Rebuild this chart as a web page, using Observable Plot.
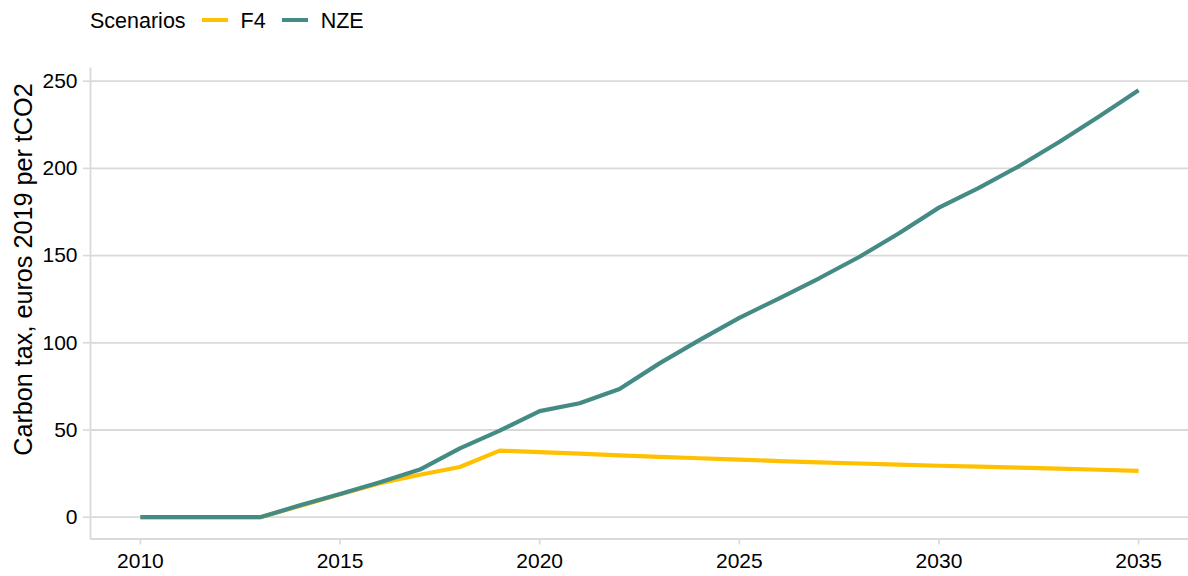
<!DOCTYPE html>
<html>
<head>
<meta charset="utf-8">
<script src="https://cdn.jsdelivr.net/npm/d3@7"></script>
<script src="https://cdn.jsdelivr.net/npm/@observablehq/plot@0.6"></script>
<style>
  html, body { margin: 0; padding: 0; background: #fff; }
  body { width: 1188px; height: 576px; overflow: hidden; font-family: "Liberation Sans", Arial, sans-serif; }
  #legend { height: 40px; display: flex; align-items: center; padding-left: 90px; font-size: 21.5px; color: #000; box-sizing: border-box; }
  #legend .t { position: relative; top: 1px; }
  #legend .sw { height: 4px; }
  #chart svg { display: block; }
</style>
</head>
<body>
<div id="legend"></div>
<div id="chart"></div>
<script>
// ---- Data ----
const years = [2010, 2011, 2012, 2013, 2014, 2015, 2016, 2017, 2018, 2019, 2020, 2021, 2022,
               2023, 2024, 2025, 2026, 2027, 2028, 2029, 2030, 2031, 2032, 2033, 2034, 2035];
const f4Values  = [0, 0, 0, 0, 6.5, 13.2, 19.5, 24.3, 28.8, 38.2, 37.3, 36.4, 35.5,
                   34.6, 33.8, 33.0, 32.2, 31.4, 30.8, 30.1, 29.5, 29.0, 28.4, 27.8, 27.2, 26.6];
const nzeValues = [0, 0, 0, 0, 6.8, 13.3, 20.1, 27.3, 39.5, 49.6, 60.8, 65.3, 73.5,
                   88.2, 101.5, 114.3, 125.5, 137.0, 149.2, 162.8, 177.5, 188.8, 201.2, 215.0, 229.6, 244.8];
const scenarios = ["F4", "NZE"];
const scenarioColors = ["#FFC000", "#458B85"];
const yTicks = [0, 50, 100, 150, 200, 250];
const xTicks = [2010, 2015, 2020, 2025, 2030, 2035];
const yTitle = "Carbon tax, euros 2019 per tCO2";
const legendTitle = "Scenarios";

// ---- Build table ----
const series = {F4: f4Values, NZE: nzeValues};
const data = scenarios.flatMap(s => years.map((yr, i) => ({year: yr, value: series[s][i], scenario: s})));

// ---- Legend (HTML, above the SVG) ----
const legend = document.getElementById("legend");
const title = document.createElement("span");
title.className = "t";
title.textContent = legendTitle;
title.style.marginRight = "16px";
legend.appendChild(title);
scenarios.forEach((s, i) => {
  const sw = document.createElement("span");
  sw.className = "sw";
  sw.style.width = "26px";
  sw.style.background = scenarioColors[i];
  sw.style.marginRight = "13px";
  legend.appendChild(sw);
  const lab = document.createElement("span");
  lab.className = "t";
  lab.textContent = s;
  lab.style.marginRight = "16px";
  legend.appendChild(lab);
});

// ---- Chart ----
const xDomain = [2008.75, 2036.25];
const yDomain = [-12.5, 257.5];
const gridColor = "#d9d9d9";

const chart = Plot.plot({
  width: 1188,
  height: 536,
  marginLeft: 90,
  marginRight: 0,
  marginTop: 27.6,
  marginBottom: 37.5,
  style: {fontFamily: "'Liberation Sans', Arial, sans-serif", fontSize: "21px", color: "#000", background: "#fff"},
  x: {domain: xDomain},
  y: {domain: yDomain},
  color: {domain: scenarios, range: scenarioColors},
  marks: [
    Plot.gridY(yTicks, {stroke: gridColor, strokeOpacity: 1, strokeWidth: 1.8}),
    Plot.ruleX([xDomain[0]], {stroke: gridColor, strokeWidth: 1.8}),
    Plot.ruleY([yDomain[0]], {stroke: gridColor, strokeWidth: 1.8}),
    Plot.axisY(yTicks, {tickSize: 7, tickPadding: 6, stroke: gridColor, strokeWidth: 1.6, fill: "#000", label: null, fontSize: 21}),
    Plot.axisX(xTicks, {tickSize: 6, tickPadding: 8, stroke: gridColor, strokeWidth: 1.6, fill: "#000", label: null, fontSize: 21, tickFormat: d => String(d)}),
    Plot.line(data, {x: "year", y: "value", stroke: "scenario", strokeWidth: 4.2, strokeLinejoin: "round", strokeLinecap: "butt"}),
    Plot.text([yTitle], {text: d => d, frameAnchor: "left", textAnchor: "middle", lineAnchor: "middle", rotate: -90, dx: -67, dy: -34, fontSize: 25.2, fill: "#000"})
  ]
});
document.getElementById("chart").appendChild(chart);
</script>
</body>
</html>
